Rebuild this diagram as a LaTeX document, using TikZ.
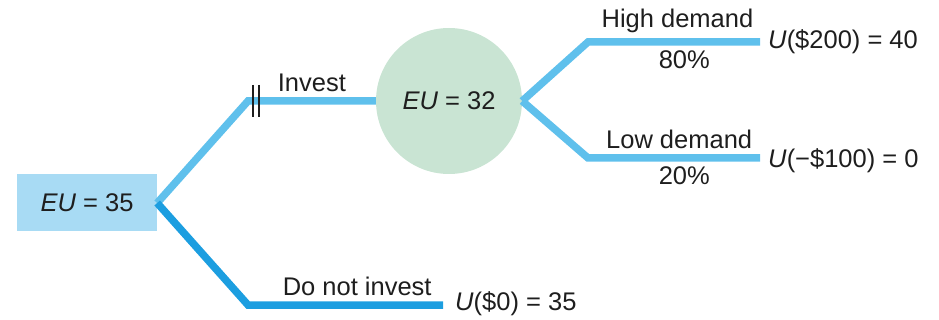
\documentclass[tikz,border=0pt]{standalone}
\usepackage{fontspec}
\setmainfont{Liberation Sans}
\definecolor{branchlight}{RGB}{95,192,236}
\definecolor{branchdark}{RGB}{28,158,224}
\definecolor{rootfill}{RGB}{168,219,244}
\definecolor{chancefill}{RGB}{201,228,211}
\definecolor{ink}{RGB}{30,30,30}

\begin{document}
\begin{tikzpicture}[x=1pt,y=-1pt]
    \tikzstyle{every node}=[text=ink, font=\fontsize{25.5}{29}\selectfont]
    \tikzstyle{branch}=[line width=7.5pt, draw=branchlight, line join=miter]
    \tikzstyle{rootbox}=[rectangle, fill=rootfill, minimum width=140pt, minimum height=57pt]
    \tikzstyle{chance}=[circle, fill=chancefill, minimum size=146pt, inner sep=0pt]
    \tikzstyle{leaf}=[anchor=west, inner sep=0pt]
    \useasboundingbox (0,0) rectangle (939,320);

    % decision and chance nodes
    \node[rootbox] (root) at (87,203) {\textit{EU} = 35};
    \node[chance] (chance) at (449,101) {\textit{EU} = 32};

    % bends and ends of the branches
    \coordinate (invbend) at (248,101);
    \coordinate (nobend) at (248,305);
    \coordinate (noend) at (443,305);
    \coordinate (hibend) at (588,42);
    \coordinate (hiend) at (760,42);
    \coordinate (lobend) at (588,158);
    \coordinate (loend) at (760,158);

    % payoffs
    \node[leaf] (hileaf) at (768,42) {\textit{U}(\$200) = 40};
    \node[leaf] (loleaf) at (768,161) {\textit{U}(−\$100) = 0};
    \node[leaf] (noleaf) at (455,304) {\textit{U}(\$0) = 35};

    % branches
    \draw[branch] (root.east) -- (invbend) -- node[above=2pt, pos=0.5] {Invest} (chance.west);
    \draw[branch, draw=branchdark] (root.east) -- (nobend) -- node[above=2pt, pos=0.56] {Do not invest} (noend);
    \draw[branch] (chance.east) -- (hibend) -- node[above=2pt, pos=0.52] {High demand} node[below=2pt, pos=0.56] {80\%} (hiend);
    \draw[branch] (chance.east) -- (lobend) -- node[above=2pt, pos=0.53] {Low demand} node[below=2pt, pos=0.56] {20\%} (loend);

    % rejected option mark
    \draw[ink, line width=1.4pt] (253,85) -- (253,117) (259,85) -- (259,117);
\end{tikzpicture}
\end{document}
